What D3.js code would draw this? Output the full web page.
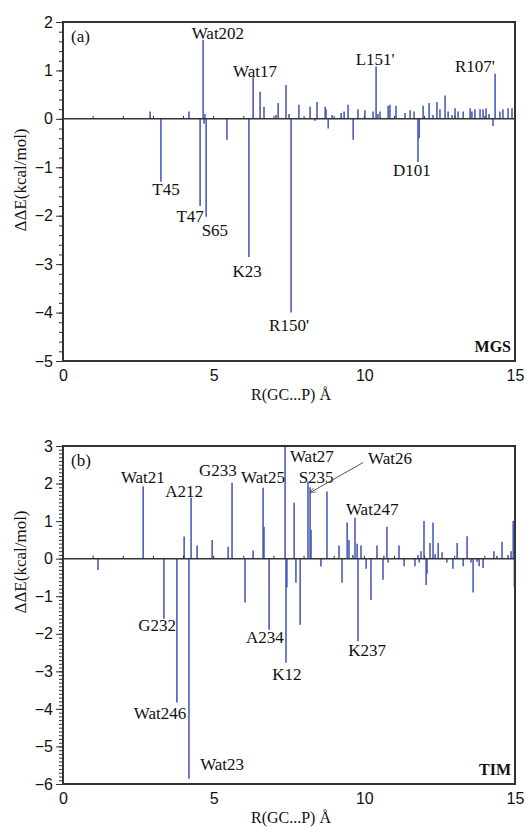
<!DOCTYPE html>
<html><head><meta charset="utf-8">
<script src="https://cdn.jsdelivr.net/npm/d3@7"></script>
<style>body{margin:0;background:#fff}</style>
</head><body>
<svg id="c" width="529" height="827"></svg>
<script>
// ---------- DATA ----------
// Panel (a) MGS
const aR = [2.89,3.25,4.18,4.55,4.65,4.68,4.71,4.75,5.44,6.17,6.31,6.54,6.67,7.07,7.14,7.40,7.50,7.57,7.83,8.20,8.36,8.43,8.70,8.73,8.80,8.93,9.23,9.33,9.46,9.63,9.79,10.02,10.29,10.39,10.45,10.52,10.79,10.85,11.05,11.35,11.52,11.65,11.78,11.82,11.95,12.15,12.28,12.41,12.51,12.68,12.78,12.91,13.01,13.11,13.28,13.51,13.57,13.67,13.84,13.94,14.04,14.14,14.27,14.34,14.50,14.60,14.77,14.90];
const aV = [0.15,-1.3,0.15,-1.8,1.63,-0.1,0.1,-2.02,-0.43,-2.85,0.87,0.56,0.25,0.08,0.33,0.70,0.1,-4.0,0.29,0.25,-0.04,0.35,0.25,0.2,-0.2,0.08,0.12,0.15,0.29,-0.43,0.2,0.18,0.15,1.08,0.1,0.15,0.27,0.29,0.27,0.12,0.18,0.15,-0.89,-0.4,0.27,0.33,0.08,0.35,0.2,0.48,0.15,0.08,0.22,0.15,0.15,0.22,0.15,0.2,0.2,0.2,0.22,0.1,-0.15,0.93,0.15,0.2,0.22,0.22];
const aLabels = ["Wat202","Wat17","L151'","R107'","T45","T47","S65","K23","R150'","D101"];
const aLabelR = [5.14,6.37,10.36,13.67,3.42,4.22,5.04,6.11,7.50,11.58];
const aLabelV = [1.78,0.99,1.24,1.10,-1.45,-2.0,-2.29,-3.14,-4.26,-1.05];

// Panel (b) TIM
const bR = [1.16,2.66,3.35,3.78,4.02,4.18,4.25,4.45,4.95,5.48,5.61,6.04,6.31,6.64,6.67,6.84,7.37,7.40,7.43,7.67,7.73,7.87,8.13,8.20,8.23,8.56,8.76,9.16,9.26,9.43,9.49,9.62,9.69,9.76,9.79,9.89,10.06,10.22,10.42,10.62,10.65,10.75,10.79,11.15,11.32,11.68,11.78,11.82,11.88,11.98,12.05,12.08,12.18,12.28,12.35,12.45,12.58,12.74,12.94,13.08,13.28,13.41,13.54,13.61,13.74,13.81,13.94,14.30,14.40,14.57,14.77,14.87,14.94,14.98];
const bV = [-0.3,1.92,-1.6,-3.83,0.59,-5.86,1.62,0.35,0.5,0.32,2.02,-1.17,0.22,1.89,0.85,-1.89,3.0,-2.77,-0.77,1.49,-0.64,-1.76,2.05,1.9,0.77,-0.21,1.79,0.35,-0.64,0.96,0.5,0.1,1.09,0.4,-2.2,0.35,-0.27,-1.1,0.35,-0.56,0.08,0.85,-0.1,0.35,-0.2,-0.2,0.1,-0.1,0.2,1.0,-0.7,-0.4,0.42,0.96,0.12,0.42,0.17,-0.1,-0.27,0.42,-0.2,0.6,-0.1,-0.9,-0.08,-0.2,-0.25,0.2,0.08,0.45,0.1,0.2,1.0,-0.75];
const bLabels = ["Wat21","A212","G233","Wat25","Wat27","S235","Wat26","Wat247","G232","Wat246","Wat23","A234","K12","K237"];
const bLabelR = [2.65,4.02,5.14,6.64,8.26,8.40,10.85,10.26,3.12,3.22,5.28,6.70,7.43,10.09];
const bLabelV = [2.16,1.81,2.37,2.16,2.74,2.18,2.69,1.33,-1.76,-4.10,-5.46,-2.10,-3.06,-2.42];
const bLeaderR = [9.96,8.20];
const bLeaderV = [2.56,1.76];

const xTicks = [0,5,10,15];
const aYTicks = [2,1,0,-1,-2,-3,-4,-5];
const bYTicks = [3,2,1,0,-1,-2,-3,-4,-5,-6];
const xTitle = "R(GC...P) Å";
const yTitle = "ΔΔE(kcal/mol)";

// ---------- DRAW ----------
const svg = d3.select("#c");
const serif = "'Liberation Serif','Times New Roman',serif";
const sans = "'Liberation Sans',Arial,sans-serif";
const barColor = "#4252b4";
const frame = "#333";

function panel(opt){
  const g = svg.append("g");
  const x = d3.scaleLinear().domain([0,15]).range([opt.left,opt.right]);
  const y = d3.scaleLinear().domain(opt.ydom).range([opt.bottom,opt.top]);

  // bars
  g.selectAll("line.bar").data(opt.R.map((r,i)=>[r,opt.V[i]])).join("line")
    .attr("class","bar")
    .attr("x1",d=>x(d[0])).attr("x2",d=>x(d[0]))
    .attr("y1",y(0)).attr("y2",d=>y(d[1]))
    .attr("stroke",barColor).attr("stroke-width",1.5);

  // zero line with ticks
  g.append("line").attr("x1",opt.left).attr("x2",opt.right)
    .attr("y1",y(0)).attr("y2",y(0)).attr("stroke",frame).attr("stroke-width",1.5);
  g.selectAll("line.zt").data(d3.range(1,15)).join("line").attr("class","zt")
    .attr("x1",d=>x(d)).attr("x2",d=>x(d)).attr("y1",y(0)).attr("y2",y(0)-3)
    .attr("stroke",frame).attr("stroke-width",1);

  // y axis with minor ticks
  const minor = d3.range(opt.ydom[0],opt.ydom[1]+1e-9,opt.minor);
  g.append("g").attr("transform",`translate(${opt.left},0)`)
    .call(d3.axisLeft(y).tickValues(minor).tickSize(4).tickFormat(""))
    .call(s=>{s.select(".domain").remove(); s.selectAll("line").attr("stroke",frame);});
  const ya = g.append("g").attr("transform",`translate(${opt.left},0)`)
    .call(d3.axisLeft(y).tickValues(opt.yticks).tickSize(7).tickPadding(3).tickFormat(d3.format("d")));
  ya.select(".domain").remove();
  ya.selectAll("line").attr("stroke",frame);
  ya.selectAll("text").attr("font-family",sans).attr("font-size",16).attr("fill","#111");

  // x axis labels
  const xa = g.append("g").attr("transform",`translate(0,${opt.bottom})`)
    .call(d3.axisBottom(x).tickValues(xTicks).tickSize(0).tickPadding(9));
  xa.select(".domain").remove();
  xa.selectAll("text").attr("font-family",sans).attr("font-size",16).attr("fill","#111");

  // frame
  g.append("rect").attr("x",opt.left).attr("y",opt.top)
    .attr("width",opt.right-opt.left).attr("height",opt.bottom-opt.top)
    .attr("fill","none").attr("stroke",frame).attr("stroke-width",2);

  // titles
  g.append("text").attr("x",(opt.left+opt.right)/2+2).attr("y",opt.bottom+39)
    .attr("text-anchor","middle").attr("font-family",serif).attr("font-size",16)
    .attr("fill","#111").text(xTitle);
  g.append("text").attr("transform",`translate(26,${opt.ytitleY}) rotate(-90)`)
    .attr("text-anchor","middle").attr("font-family",serif).attr("font-size",17)
    .attr("fill","#111").text(yTitle);
  g.append("text").attr("x",opt.left+8).attr("y",opt.top+20)
    .attr("font-family",serif).attr("font-size",17).attr("fill","#111").text(opt.tag);
  g.append("text").attr("x",opt.right-4).attr("y",opt.bottom-9)
    .attr("text-anchor","end").attr("font-family",serif).attr("font-weight","bold")
    .attr("font-size",16).attr("fill","#111").text(opt.name);

  // annotations
  g.selectAll("text.lab").data(opt.labels.map((t,i)=>[t,opt.lR[i],opt.lV[i]])).join("text")
    .attr("class","lab")
    .attr("x",d=>x(d[1])).attr("y",d=>y(d[2]))
    .attr("dy","0.35em").attr("text-anchor","middle")
    .attr("font-family",serif).attr("font-size",17).attr("fill","#111")
    .text(d=>d[0]);
  return {x,y,g};
}

panel({left:63,right:515,top:22,bottom:361,ydom:[-5,2],yticks:aYTicks,minor:0.2,
  R:aR,V:aV,labels:aLabels,lR:aLabelR,lV:aLabelV,tag:"(a)",name:"MGS",ytitleY:180});
const pb = panel({left:63,right:515,top:446,bottom:784,ydom:[-6,3],yticks:bYTicks,minor:0.1,
  R:bR,V:bV,labels:bLabels,lR:bLabelR,lV:bLabelV,tag:"(b)",name:"TIM",ytitleY:562});

// leader line for Wat26
svg.append("defs").append("marker").attr("id","ah").attr("viewBox","0 0 10 10")
  .attr("refX",9).attr("refY",5).attr("markerWidth",6).attr("markerHeight",6)
  .attr("orient","auto").append("path").attr("d","M0,1 L10,5 L0,9").attr("fill","none").attr("stroke","#555").attr("stroke-width",1.2);
pb.g.append("line")
  .attr("x1",pb.x(bLeaderR[0])).attr("y1",pb.y(bLeaderV[0]))
  .attr("x2",pb.x(bLeaderR[1])).attr("y2",pb.y(bLeaderV[1]))
  .attr("stroke","#555").attr("stroke-width",1).attr("marker-end","url(#ah)");
</script>
</body></html>
